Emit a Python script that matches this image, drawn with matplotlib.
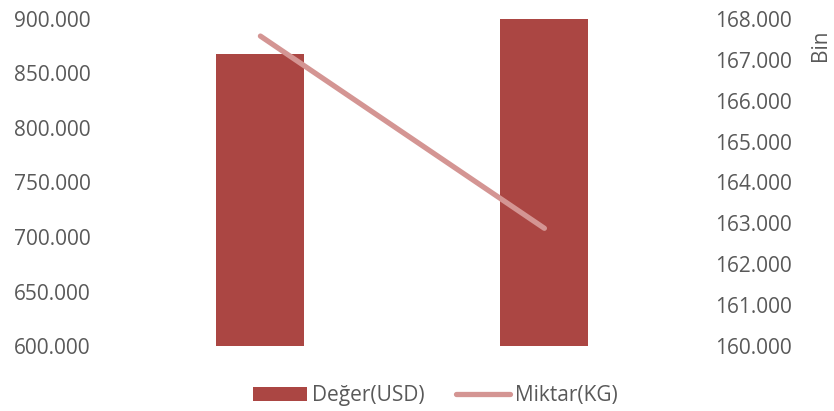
import matplotlib.pyplot as plt
from matplotlib.ticker import FuncFormatter

# data
years    = ["2022", "2023"]
deger    = [868000, 900000]        # Değer(USD), left axis
miktar   = [167580, 162880]        # Miktar(KG), right axis

bar_col  = "#AB4643"
line_col = "#D49593"
txt_col  = "#595959"

plt.rcParams["font.family"] = ["Open Sans", "DejaVu Sans"]


def dot_fmt(v, pos):
    return f"{v:,.0f}".replace(",", ".")


fig = plt.figure(figsize=(8.34, 4.11), dpi=100)
ax = fig.add_axes([0.142, 0.158, 0.681, 0.796])
x = list(range(len(years)))

bars = ax.bar(x, deger, width=0.31, color=bar_col, label="Değer(USD)", zorder=2)
ax.set_ylim(600000, 900000)
ax.set_xlim(-0.5, 1.5)
ax.set_yticks(range(600000, 900001, 50000))
ax.yaxis.set_major_formatter(FuncFormatter(dot_fmt))
ax.set_xticks([])

ax2 = ax.twinx()
ln, = ax2.plot(x, [m / 1000 for m in miktar], color=line_col, lw=3.8,
               solid_capstyle="round", label="Miktar(KG)", zorder=3)
ax2.set_ylim(160, 168)
ax2.set_yticks(range(160, 169))
ax2.yaxis.set_major_formatter(FuncFormatter(lambda v, p: f"{v:.0f}.000"))

for a in (ax, ax2):
    for s in a.spines.values():
        s.set_visible(False)
    a.tick_params(length=0, labelsize=15, colors=txt_col)
ax.tick_params(axis="y", pad=20)
ax2.tick_params(axis="y", pad=21)

fig.text(0.984, 0.89, "Bin", rotation=90, ha="center", va="center",
         fontsize=15, color=txt_col)

fig.legend(handles=[bars, ln], loc="center", bbox_to_anchor=(0.522, 0.037),
           ncol=2, frameon=False, fontsize=15, labelcolor=txt_col,
           handlelength=2.6, handletextpad=0.25, columnspacing=1.5,
           handleheight=0.6)

fig.savefig("out.png", dpi=100)
